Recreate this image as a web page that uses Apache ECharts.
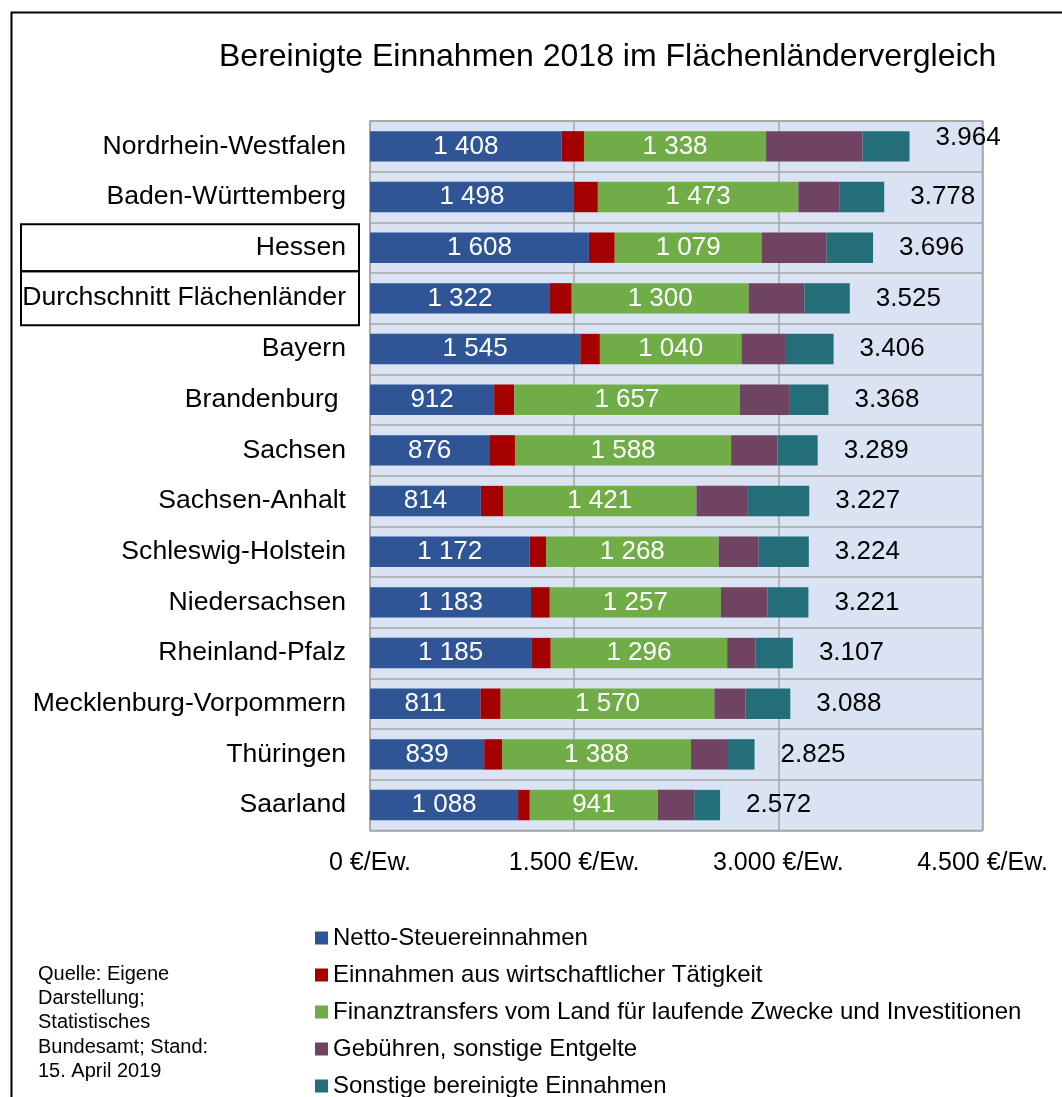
<!DOCTYPE html>
<html lang="de">
<head>
<meta charset="utf-8">
</head>
<body style="margin: 0">
<div id="container" style="width: 1062px; height: 1097px"></div>
<script src="https://cdn.jsdelivr.net/npm/echarts@6/dist/echarts.min.js"></script>
<script>
// Daten je Land (€ je Einwohner), von oben nach unten
const laender = ['Nordrhein-Westfalen', 'Baden-Württemberg', 'Hessen', 'Durchschnitt Flächenländer', 'Bayern', 'Brandenburg ', 'Sachsen', 'Sachsen-Anhalt', 'Schleswig-Holstein', 'Niedersachsen', 'Rheinland-Pfalz', 'Mecklenburg-Vorpommern', 'Thüringen', 'Saarland'];
const steuern    = [1408, 1498, 1608, 1322, 1545, 912, 876, 814, 1172, 1183, 1185, 811, 839, 1088];
const wirtschaft = [164, 176, 190, 160, 144, 147, 189, 163, 121, 138, 143, 149, 131, 86];
const transfers  = [1338, 1473, 1079, 1300, 1040, 1657, 1588, 1421, 1268, 1257, 1296, 1570, 1388, 941];
const gebuehren  = [708, 300, 478, 410, 320, 363, 340, 378, 295, 343, 207, 228, 265, 267];
const sonstige   = [346, 331, 341, 333, 357, 289, 296, 451, 368, 300, 276, 330, 202, 190];
const gesamt     = [3964, 3778, 3696, 3525, 3406, 3368, 3289, 3227, 3224, 3221, 3107, 3088, 2825, 2572];
const legende = ['Netto-Steuereinnahmen', 'Einnahmen aus wirtschaftlicher Tätigkeit', 'Finanztransfers vom Land für laufende Zwecke und Investitionen', 'Gebühren, sonstige Entgelte', 'Sonstige bereinigte Einnahmen'];
const xMin = 0, xMax = 4500, xStep = 1500;

const font = "'Liberation Sans', Arial, sans-serif";
const farben = ['#2f5597', '#a50000', '#70ad47', '#6f4361', '#236e79'];

function tausend(v, sep) {
	return String(v).replace(/\B(?=(\d{3})+(?!\d))/g, sep);
}

var chart = echarts.init(document.getElementById('container'));

function teil(name, data, color, mitLabel) {
	return {
		name: name,
		type: 'bar',
		stack: 'summe',
		barWidth: '60%',
		data: data,
		itemStyle: { color: color },
		label: {
			show: mitLabel,
			position: 'inside',
			color: '#fff',
			fontSize: 26,
			fontFamily: font,
			formatter: p => tausend(p.value, ' ')
		}
	};
}

var option = {
	backgroundColor: '#fff',
	animation: false,
	title: [{
		text: 'Bereinigte Einnahmen 2018 im Flächenländervergleich',
		left: 219,
		top: 41,
		padding: 0,
		textStyle: { fontSize: 32, fontWeight: 'normal', color: '#000', fontFamily: font }
	}, {
		text: 'Quelle: Eigene\nDarstellung;\nStatistisches\nBundesamt; Stand:\n15. April 2019',
		left: 38,
		top: 962,
		padding: 0,
		textStyle: { fontSize: 20, lineHeight: 24.3, fontWeight: 'normal', color: '#000', fontFamily: font }
	}],
	graphic: [{
		type: 'rect',
		left: 9,
		top: 10,
		shape: { width: 1100, height: 1100 },
		style: { fill: 'none', stroke: '#000', lineWidth: 2 }
	}],
	legend: {
		data: legende,
		orient: 'vertical',
		left: 315,
		top: 926,
		height: 220,
		padding: 0,
		itemWidth: 13,
		itemHeight: 13,
		itemGap: 13,
		icon: 'rect',
		textStyle: { fontSize: 24, lineHeight: 22, color: '#000', fontFamily: font }
	},
	grid: {
		left: 370,
		right: 79.5,
		top: 121,
		bottom: 266.6,
		show: true,
		backgroundColor: '#dae3f3',
		borderColor: '#a6a6a6',
		borderWidth: 1.5
	},
	xAxis: {
		type: 'value',
		min: xMin,
		max: xMax,
		interval: xStep,
		axisLine: { show: false },
		axisTick: { show: false },
		splitLine: { show: true, lineStyle: { color: '#a6a6a6', width: 1.5 } },
		axisLabel: {
			margin: 20,
			fontSize: 25,
			color: '#000',
			fontFamily: font,
			formatter: v => tausend(v, '.') + ' €/Ew.'
		}
	},
	yAxis: {
		type: 'category',
		inverse: true,
		data: laender,
		axisLine: { show: false },
		axisTick: { show: false },
		splitLine: { show: true, lineStyle: { color: '#a6a6a6', width: 1.5 } },
		axisLabel: {
			interval: 0,
			margin: 11,
			formatter: v => v === 'Hessen' ? '{hes|' + v + '}' : v.indexOf('Durchschnitt') === 0 ? '{avg|' + v + '}' : '{txt|' + v + '}',
			rich: {
				txt: { fontSize: 26.6, color: '#000', fontFamily: font, padding: [0, 13, 0, 0] },
				hes: { fontSize: 26.6, color: '#000', fontFamily: font, lineHeight: 30, width: 325, align: 'right', padding: [10, 13, 10, 0], borderColor: '#000', borderWidth: 2 },
				avg: { fontSize: 26.6, color: '#000', fontFamily: font, lineHeight: 30, width: 325, align: 'right', padding: [13, 13, 14, 0], borderColor: '#000', borderWidth: 2 }
			}
		}
	},
	series: [
		teil(legende[0], steuern, farben[0], true),
		teil(legende[1], wirtschaft, farben[1], false),
		teil(legende[2], transfers, farben[2], true),
		teil(legende[3], gebuehren, farben[3], false),
		teil(legende[4], sonstige, farben[4], false),
		{
			name: 'Summe',
			type: 'bar',
			barWidth: '60%',
			barGap: '-100%',
			z: 1,
			data: gesamt.map((v, i) => i === 0 ? { value: v, label: { offset: [0, -9] } } : v),
			itemStyle: { color: 'rgba(0,0,0,0)' },
			label: {
				show: true,
				position: 'right',
				distance: 26,
				color: '#000',
				fontSize: 26,
				fontFamily: font,
				formatter: p => tausend(p.value, '.')
			}
		}
	]
};

chart.setOption(option);
</script>
</body>
</html>
